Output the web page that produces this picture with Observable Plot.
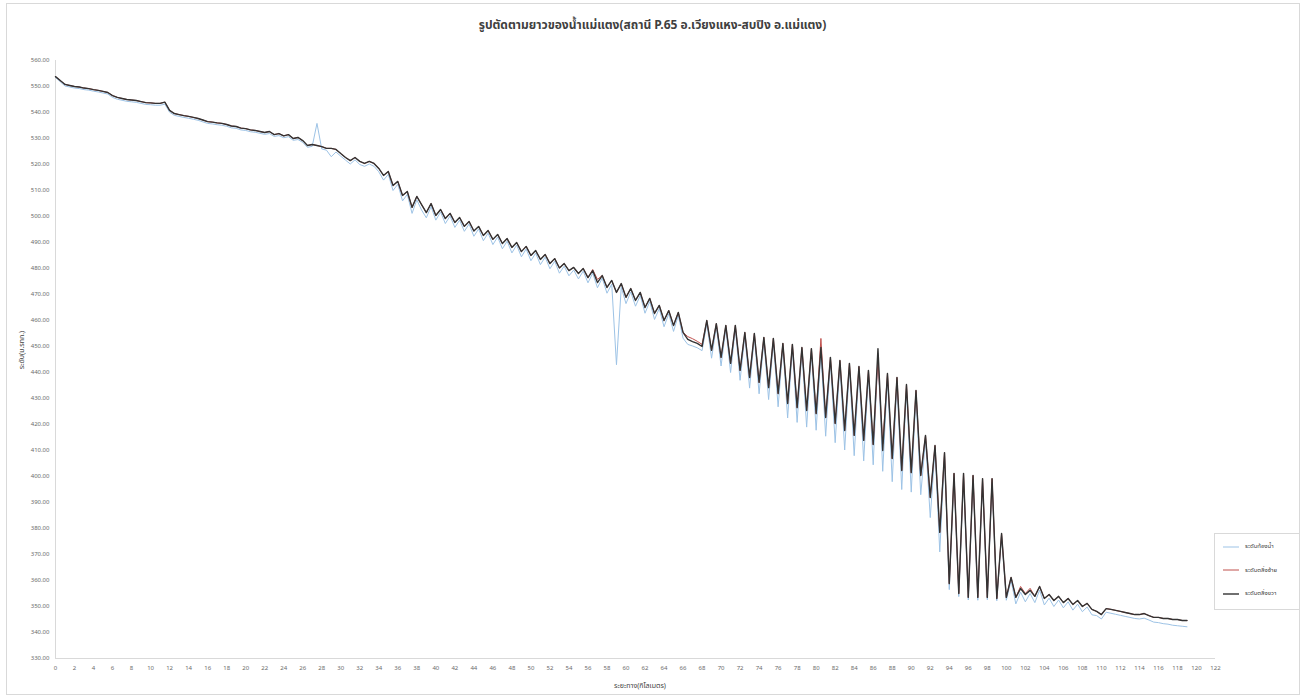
<!DOCTYPE html>
<html>
<head>
<meta charset="utf-8">
<script src="https://cdn.jsdelivr.net/npm/d3@7"></script>
<script src="https://cdn.jsdelivr.net/npm/@observablehq/plot@0.6"></script>
<style>
  html, body { margin:0; padding:0; background:#fff; }
  body { font-family: "Noto Sans Thai", "Noto Sans", "DejaVu Sans", sans-serif; }
  #wrap { position:relative; width:1305px; height:698px; overflow:hidden; }
  #frame { position:absolute; left:6px; top:3px; width:1292px; height:690px; border:1px solid #d9d9d9; }
  #title { position:absolute; top:16px; left:0; width:1305px; text-align:center; font-size:12px; font-weight:bold; color:#404040; }
  #chart { position:absolute; left:0; top:40px; }
  #ylab { position:absolute; left:22px; top:350px; transform:translate(-50%,-50%) rotate(-90deg); font-size:7px; color:#404040; white-space:nowrap; }
  #xlab { position:absolute; left:640px; top:686px; transform:translate(-50%,-50%); font-size:7px; color:#404040; white-space:nowrap; }
  #legend { position:absolute; left:1214px; top:533px; width:84px; height:75px; border:1px solid #d9d9d9; background:#fff; }
  .li { position:absolute; left:8px; font-size:6px; color:#404040; display:flex; align-items:center; white-space:nowrap; }
  .li svg { margin-right:6px; }
</style>
</head>
<body>
<div id="wrap">
  <div id="frame"></div>
  <div id="title"></div>
  <div id="chart"></div>
  <div id="ylab"></div>
  <div id="xlab"></div>
  <div id="legend"></div>
</div>
<script>
const chartTitle = "รูปตัดตามยาวของน้ำแม่แตง(สถานี P.65 อ.เวียงแหง-สบปิง อ.แม่แตง)";
const yTitle = "ระดับ(ม.รทก.)";
const xTitle = "ระยะทาง(กิโลเมตร)";
const seriesNames = ["ระดับท้องน้ำ", "ระดับตลิ่งซ้าย", "ระดับตลิ่งขวา"];
const seriesColors = ["#9dc3e6", "#c0504d", "#333333"];
const seriesWidths = [1, 1, 1.4];

const yTicks = [330,340,350,360,370,380,390,400,410,420,430,440,450,460,470,480,490,500,510,520,530,540,550,560];
const xTicks = [0,2,4,6,8,10,12,14,16,18,20,22,24,26,28,30,32,34,36,38,40,42,44,46,48,50,52,54,56,58,60,62,64,66,68,70,72,74,76,78,80,82,84,86,88,90,92,94,96,98,100,102,104,106,108,110,112,114,116,118,120,122];

const km = [
0,0.5,1,1.5,2,2.5,3,3.5,4,4.5,5,5.5,6,6.5,7,7.5,8,8.5,9,9.5,
10,10.5,11,11.5,12,12.5,13,13.5,14,14.5,15,15.5,16,16.5,17,17.5,18,18.5,19,19.5,
20,20.5,21,21.5,22,22.5,23,23.5,24,24.5,25,25.5,26,26.5,27,27.5,28,28.5,29,29.5,
30,30.5,31,31.5,32,32.5,33,33.5,34,34.5,35,35.5,36,36.5,37,37.5,38,38.5,39,39.5,
40,40.5,41,41.5,42,42.5,43,43.5,44,44.5,45,45.5,46,46.5,47,47.5,48,48.5,49,49.5,
50,50.5,51,51.5,52,52.5,53,53.5,54,54.5,55,55.5,56,56.5,57,57.5,58,58.5,59,59.5,
60,60.5,61,61.5,62,62.5,63,63.5,64,64.5,65,65.5,66,66.5,67,67.5,68,68.5,69,69.5,
70,70.5,71,71.5,72,72.5,73,73.5,74,74.5,75,75.5,76,76.5,77,77.5,78,78.5,79,79.5,
80,80.5,81,81.5,82,82.5,83,83.5,84,84.5,85,85.5,86,86.5,87,87.5,88,88.5,89,89.5,
90,90.5,91,91.5,92,92.5,93,93.5,94,94.5,95,95.5,96,96.5,97,97.5,98,98.5,99,99.5,
100,100.5,101,101.5,102,102.5,103,103.5,104,104.5,105,105.5,106,106.5,107,107.5,108,108.5,109,109.5,
110,110.5,111,111.5,112,112.5,113,113.5,114,114.5,115,115.5,116,116.5,117,117.5,118,118.5,119
];

// ระดับท้องน้ำ (bed level)
const bedLevel = [
553.5,551.8,550.2,549.8,549.4,549.2,548.8,548.6,548.2,547.9,547.5,547.1,545.8,545.1,544.7,544.3,544.1,543.9,543.5,543.1,
543.0,542.8,542.8,543.2,540.1,538.9,538.5,538.1,537.8,537.4,537.0,536.4,535.8,535.6,535.3,535.1,534.7,534.1,533.9,533.3,
533.1,532.6,532.4,532.0,531.6,531.9,530.8,531.1,530.3,530.7,529.3,529.6,528.5,526.6,527.0,535.8,526.0,525.5,523.0,524.8,
523.2,521.7,520.2,521.8,520.0,519.3,520.2,519.3,517.2,514.0,516.2,510.0,512.4,506.0,508.5,501.2,506.4,502.5,499.5,503.8,
498.6,501.7,497.3,500.2,495.8,498.6,494.3,497.1,492.4,495.2,490.7,493.6,489.2,492.1,487.6,490.5,486.0,489.0,484.5,487.5,
483.0,485.9,481.5,484.4,479.9,482.8,478.2,480.9,477.2,479.4,476.0,479.0,474.5,478.2,472.6,476.3,470.5,474.0,443.0,472.8,
466.5,471.0,465.5,469.6,462.8,467.3,460.4,464.6,457.6,462.6,455.8,462.0,453.2,450.8,450.2,449.5,448.4,458.8,445.5,457.6,
442.5,456.9,440.0,456.8,437.0,454.0,434.0,453.6,431.8,452.0,429.6,451.6,426.8,449.8,422.5,449.3,420.8,448.0,419.0,447.6,
417.8,448.0,415.5,444.2,413.0,443.0,410.2,442.0,408.0,440.8,406.0,439.2,404.5,447.5,402.0,438.0,398.0,436.5,395.0,433.8,
394.0,431.5,393.0,414.2,384.2,410.3,371.0,407.6,356.5,399.6,353.8,399.8,352.5,399.0,352.4,397.8,352.6,397.8,352.2,377.0,
352.4,360.0,351.0,355.5,351.8,355.0,351.5,356.3,350.6,353.2,350.0,352.5,349.5,351.8,348.6,350.9,348.0,349.8,346.8,346.5,
345.2,347.8,347.4,347.0,346.6,346.2,345.8,345.4,345.2,345.5,344.8,344.0,343.8,343.4,343.2,342.8,342.6,342.4,342.2
];

// ระดับตลิ่งซ้าย (left bank)
const leftBank = [
553.8,552.3,550.8,550.4,550.0,549.8,549.4,549.2,548.8,548.5,548.1,547.7,546.5,545.8,545.4,545.0,544.8,544.6,544.2,543.8,
543.7,543.5,543.5,544.0,540.8,539.6,539.2,538.8,538.5,538.1,537.7,537.1,536.5,536.3,536.0,535.8,535.4,534.8,534.6,534.0,
533.8,533.3,533.1,532.7,532.3,532.7,531.5,531.9,531.0,531.5,530.0,530.4,529.2,527.3,527.7,527.3,526.9,526.2,526.2,525.8,
524.2,522.7,521.5,522.7,521.2,520.4,521.2,520.4,518.5,515.8,517.3,511.9,513.5,508.1,509.6,503.5,507.7,504.6,501.5,505.0,
500.4,502.7,499.2,501.2,497.7,499.6,496.2,498.1,494.4,496.2,492.7,494.6,491.2,493.1,489.6,491.5,488.1,490.0,486.5,488.5,
485.0,486.9,483.5,485.4,481.9,483.8,480.2,481.9,479.2,480.4,478.1,480.0,476.5,479.6,475.8,477.3,472.7,475.4,470.8,474.2,
468.9,472.3,467.7,470.8,465.0,468.5,462.7,465.8,460.0,463.8,458.1,463.1,455.4,453.8,453.0,452.0,450.8,460.0,448.5,458.8,
445.8,458.1,443.5,458.1,440.8,455.4,438.1,455.0,436.2,453.5,434.2,453.1,431.9,451.2,428.1,450.8,426.5,449.6,425.4,449.2,
424.2,453.1,422.7,445.8,420.4,444.6,417.7,443.5,415.8,442.3,413.9,440.8,412.3,445.0,412.5,439.6,406.9,438.1,402.3,435.4,
401.5,433.1,400.4,415.8,391.9,411.9,378.5,409.2,358.8,401.2,355.0,401.2,353.5,400.4,353.5,399.2,353.5,399.2,353.1,378.1,
353.5,361.2,353.5,357.7,355.0,357.0,353.9,357.7,353.1,354.6,352.3,353.9,351.5,353.1,350.8,352.3,350.0,351.2,348.9,348.1,
346.9,349.2,348.9,348.5,348.1,347.7,347.3,346.9,346.9,347.3,346.5,345.8,345.8,345.4,345.4,345.0,345.0,344.6,344.6
];

// ระดับตลิ่งขวา (right bank)
const rightBank = [
553.8,552.3,550.8,550.4,550.0,549.8,549.4,549.2,548.8,548.5,548.1,547.7,546.5,545.8,545.4,545.0,544.8,544.6,544.2,543.8,
543.7,543.5,543.5,544.0,540.8,539.6,539.2,538.8,538.5,538.1,537.7,537.1,536.5,536.3,536.0,535.8,535.4,534.8,534.6,534.0,
533.8,533.3,533.1,532.7,532.3,532.7,531.5,531.9,531.0,531.5,530.0,530.4,529.2,527.3,527.7,527.3,526.9,526.2,526.2,525.8,
524.2,522.7,521.5,522.7,521.2,520.4,521.2,520.4,518.5,515.8,517.3,511.9,513.5,508.1,509.6,503.5,507.7,504.6,501.5,505.0,
500.4,502.7,499.2,501.2,497.7,499.6,496.2,498.1,494.4,496.2,492.7,494.6,491.2,493.1,489.6,491.5,488.1,490.0,486.5,488.5,
485.0,486.9,483.5,485.4,481.9,483.8,480.2,481.9,479.2,480.4,478.1,480.0,476.5,479.2,474.6,477.3,472.7,475.4,470.8,474.2,
468.9,472.3,467.7,470.8,465.0,468.5,462.7,465.8,460.0,463.8,458.1,463.1,455.4,452.7,451.9,451.2,450.0,460.0,448.5,458.8,
445.8,458.1,443.5,458.1,440.8,455.4,438.1,455.0,436.2,453.5,434.2,453.1,431.9,451.2,428.1,450.8,426.5,449.6,425.4,449.2,
424.2,449.6,422.7,445.8,420.4,444.6,417.7,443.5,415.8,442.3,413.9,440.8,412.3,449.2,410.0,439.6,406.9,438.1,402.3,435.4,
401.5,433.1,400.4,415.8,391.9,411.9,378.5,409.2,358.8,401.2,355.0,401.2,353.5,400.4,353.5,399.2,353.5,399.2,353.1,378.1,
353.5,361.2,353.5,356.9,354.6,356.2,353.9,357.7,353.1,354.6,352.3,353.9,351.5,353.1,350.8,352.3,350.0,351.2,348.9,348.1,
346.9,349.2,348.9,348.5,348.1,347.7,347.3,346.9,346.9,347.3,346.5,345.8,345.8,345.4,345.4,345.0,345.0,344.6,344.6
];

const seriesValues = [bedLevel, leftBank, rightBank];
const rows = seriesValues.map(arr => km.map((k, i) => ({km: k, v: arr[i]})).filter(d => d.v != null));

const plot = Plot.plot({
  width: 1305,
  height: 658,
  marginTop: 20,
  marginBottom: 40,
  marginLeft: 55,
  marginRight: 90,
  style: {fontFamily: '"Noto Sans Thai", "Noto Sans", "DejaVu Sans", sans-serif', fontSize: "6px", color: "#6b6b6b", background: "transparent"},
  x: {domain: [0, 122]},
  y: {domain: [330, 560]},
  marks: [
    Plot.ruleY([330], {stroke: "#d9d9d9"}),
    Plot.ruleX([0], {stroke: "#d9d9d9"}),
    Plot.axisY({ticks: yTicks, tickSize: 0, tickPadding: 6, tickFormat: d => d.toFixed(2), label: null}),
    Plot.axisX({ticks: xTicks, tickSize: 0, tickPadding: 7, tickFormat: d => String(d), label: null}),
    ...rows.map((r, i) => Plot.line(r, {x: "km", y: "v", stroke: seriesColors[i], strokeWidth: seriesWidths[i], strokeLinejoin: "round"}))
  ]
});
document.getElementById("chart").appendChild(plot);
document.getElementById("title").textContent = chartTitle;
document.getElementById("ylab").textContent = yTitle;
document.getElementById("xlab").textContent = xTitle;

const legend = document.getElementById("legend");
seriesNames.forEach((name, i) => {
  const row = document.createElement("div");
  row.className = "li";
  row.style.top = (8 + i * 23.5) + "px";
  row.innerHTML = `<svg width="16" height="6"><line x1="0" y1="3" x2="16" y2="3" stroke="${seriesColors[i]}" stroke-width="${seriesWidths[i]}"/></svg>`;
  const span = document.createElement("span");
  span.textContent = name;
  row.appendChild(span);
  legend.appendChild(row);
});
</script>
</body>
</html>
